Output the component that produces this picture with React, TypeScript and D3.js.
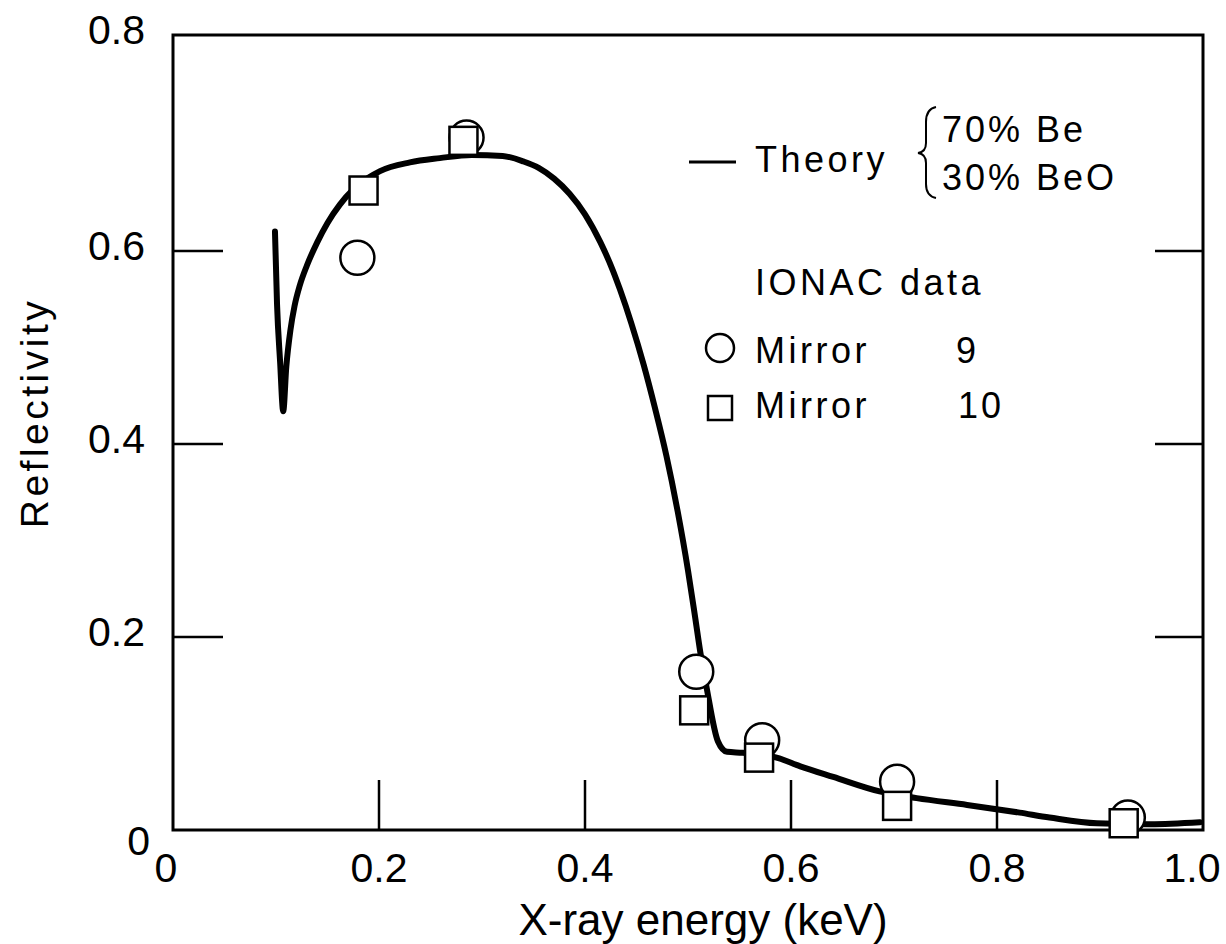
import React from "react";
import * as d3 from "d3";

// Theory curve (70% Be / 30% BeO)
const theoryEnergy = [0.099,0.101,0.104,0.107,0.110,0.114,0.118,0.123,0.130,0.140,0.150,0.162,0.175,0.190,0.201,0.230,0.259,0.290,0.320,0.340,0.355,0.370,0.385,0.400,0.415,0.427,0.434,0.445,0.457,0.468,0.479,0.490,0.500,0.507,0.512,0.518,0.529,0.538,0.553,0.586,0.609,0.641,0.686,0.722,0.771,0.822,0.851,0.897,0.949,0.997];
const theoryReflectivity = [0.618,0.545,0.485,0.434,0.480,0.518,0.543,0.564,0.585,0.608,0.626,0.643,0.657,0.668,0.674,0.682,0.686,0.689,0.688,0.683,0.677,0.667,0.653,0.634,0.608,0.580,0.560,0.525,0.482,0.437,0.388,0.330,0.269,0.220,0.184,0.148,0.092,0.081,0.080,0.075,0.066,0.055,0.040,0.033,0.026,0.018,0.013,0.007,0.006,0.008];

// IONAC data
const mirror9Energy = [0.179, 0.285, 0.508, 0.572, 0.703, 0.927];
const mirror9Reflectivity = [0.593, 0.705, 0.164, 0.093, 0.050, 0.013];
const mirror10Energy = [0.185, 0.282, 0.506, 0.569, 0.703, 0.923];
const mirror10Reflectivity = [0.656, 0.702, 0.124, 0.075, 0.025, 0.007];

const xTicks = [0, 0.2, 0.4, 0.6, 0.8, 1.0];
const xTickLabels = ["0", "0.2", "0.4", "0.6", "0.8", "1.0"];
const yTicks = [0, 0.2, 0.4, 0.6, 0.8];
const yTickLabels = ["0", "0.2", "0.4", "0.6", "0.8"];

export default function App() {
  const x = d3.scaleLinear().domain([0, 1]).range([173, 1203]);
  const y = d3.scaleLinear().domain([0, 0.6, 0.8]).range([830, 251, 35]);
  const font = "'Liberation Sans', Arial, Helvetica, sans-serif";

  const pts: [number, number][] = theoryEnergy.map((e, i) => [e, theoryReflectivity[i]]);
  const line = d3
    .line<[number, number]>()
    .x((d) => x(d[0]))
    .y((d) => y(d[1]))
    .curve(d3.curveMonotoneX);

  const x0 = x(0), x1 = x(1), yb = y(0), yt = y(0.8);
  const sq = 28;

  return (
    <svg width={1226} height={944} style={{ position: "absolute", left: 0, top: 0, background: "#fff" }}>
      {/* frame */}
      <rect x={x0} y={yt} width={x1 - x0} height={yb - yt} fill="none" stroke="#000" strokeWidth={3} />
      {/* inner ticks */}
      {yTicks.filter((t) => t > 0 && t < 0.8).map((t) => (
        <g key={"yt" + t}>
          <line x1={x0} x2={x0 + 50} y1={y(t)} y2={y(t)} stroke="#000" strokeWidth={2.5} />
          <line x1={x1} x2={x1 - 48} y1={y(t)} y2={y(t)} stroke="#000" strokeWidth={2.5} />
        </g>
      ))}
      {xTicks.filter((t) => t > 0 && t < 1).map((t) => (
        <line key={"xt" + t} x1={x(t)} x2={x(t)} y1={yb} y2={yb - 50} stroke="#000" strokeWidth={2.5} />
      ))}
      {/* tick labels */}
      {yTicks.map((t, i) => (
        <text key={"yl" + t} x={t === 0 ? 150 : 145} y={y(t) + (t === 0 ? 25 : 9)} textAnchor="end" fontFamily={font} fontSize={41} fill="#000">
          {yTickLabels[i]}
        </text>
      ))}
      {xTicks.map((t, i) => (
        <text key={"xl" + t} x={t === 0 ? x(t) - 7 : t === 1 ? x(t) - 11 : x(t)} y={882} textAnchor="middle" fontFamily={font} fontSize={41} fill="#000">
          {xTickLabels[i]}
        </text>
      ))}
      {/* axis titles */}
      <text x={703} y={935} textAnchor="middle" fontFamily={font} fontSize={44} fill="#000">X-ray energy (keV)</text>
      <text transform="translate(48,413) rotate(-90)" textAnchor="middle" fontFamily={font} fontSize={39} letterSpacing={3.5} fill="#000">Reflectivity</text>

      {/* theory curve */}
      <path d={line(pts) || ""} fill="none" stroke="#000" strokeWidth={6} strokeLinejoin="round" strokeLinecap="round" />

      {/* mirror 9 circles */}
      {mirror9Energy.map((e, i) => (
        <circle key={"c" + i} cx={x(e)} cy={y(mirror9Reflectivity[i])} r={17} fill="#fff" stroke="#000" strokeWidth={2.5} />
      ))}
      {/* mirror 10 squares */}
      {mirror10Energy.map((e, i) => (
        <rect key={"s" + i} x={x(e) - sq / 2} y={y(mirror10Reflectivity[i]) - sq / 2} width={sq} height={sq} fill="#fff" stroke="#000" strokeWidth={2.5} />
      ))}

      {/* legend */}
      <line x1={689} x2={736} y1={162} y2={162} stroke="#000" strokeWidth={3} />
      <text x={755} y={172} fontFamily={font} fontSize={36} letterSpacing={3.5} fill="#000">Theory</text>
      <path d="M 936 107 Q 926 109 926 122 L 926 143 Q 926 152 918 153 Q 926 154 926 163 L 926 184 Q 926 196 936 198" fill="none" stroke="#000" strokeWidth={2} />
      <text x={942} y={142} fontFamily={font} fontSize={36} letterSpacing={3} fill="#000">70% Be</text>
      <text x={942} y={190} fontFamily={font} fontSize={36} letterSpacing={3} fill="#000">30% BeO</text>
      <text x={755} y={295} fontFamily={font} fontSize={36} letterSpacing={3.5} fill="#000">IONAC data</text>
      <circle cx={720} cy={348} r={14} fill="#fff" stroke="#000" strokeWidth={2.5} />
      <text x={755} y={363} fontFamily={font} fontSize={36} letterSpacing={3.5} fill="#000">Mirror</text>
      <text x={956} y={363} fontFamily={font} fontSize={36} fill="#000">9</text>
      <rect x={708} y={396} width={24} height={24} fill="#fff" stroke="#000" strokeWidth={2.5} />
      <text x={755} y={418} fontFamily={font} fontSize={36} letterSpacing={3.5} fill="#000">Mirror</text>
      <text x={958} y={418} fontFamily={font} fontSize={36} letterSpacing={3} fill="#000">10</text>
    </svg>
  );
}
